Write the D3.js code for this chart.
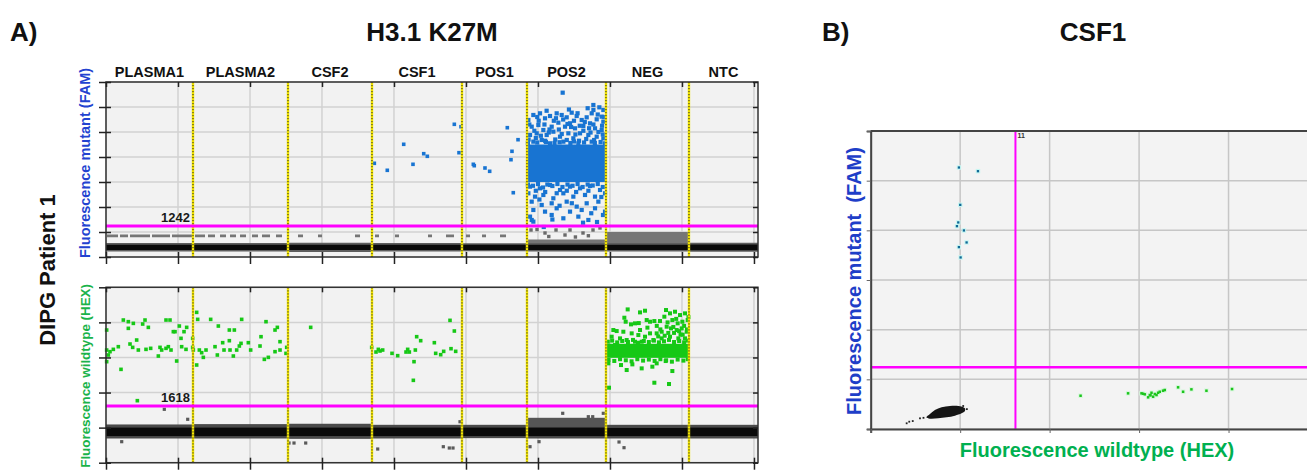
<!DOCTYPE html>
<html>
<head>
<meta charset="utf-8">
<script src="https://cdn.jsdelivr.net/npm/d3@7"></script>
<style>
  body { margin: 0; background: #fff; }
  svg { font-family: 'Liberation Sans', Arial, sans-serif; }
</style>
</head>
<body>
<div id="vis"></div>
<script>
// ---- 1D plots (event number vs amplitude) ----
const wells = ['PLASMA1', 'PLASMA2', 'CSF2', 'CSF1', 'POS1', 'POS2', 'NEG', 'NTC'];
const wellBounds = [0, 12083, 25278, 36944, 49444, 58472, 69444, 80972, 90560];
const eventTicks = [0, 10000, 20000, 30000, 40000, 50000, 60000, 70000, 80000, 90000];
const famTicks = [0, 1000, 2000, 3000, 4000, 5000, 6000, 7000];
const hexTicks = [0, 1000, 2000, 3000, 4000, 5000];
const famThreshold = 1242;
const hexThreshold = 1618;

// negative droplet band per well [lo, hi] (core) and its grey fringe
const famNegCore = [[280, 490], [280, 490], [280, 490], [280, 490], [280, 490], [280, 490], [280, 490], [270, 500]];
const famNegFringe = [[220, 560], [220, 560], [200, 570], [220, 560], [230, 550], [220, 570], [220, 560], [210, 570]];
const hexNegCore = [[760, 1000], [760, 1000], [760, 1000], [760, 1000], [760, 1000], [760, 1000], [760, 990], [760, 1000]];
const hexNegFringe = [[690, 1090], [690, 1100], [680, 1110], [690, 1080], [700, 1080], [690, 1090], [690, 1080], [690, 1080]];

// HEX+ droplets seen in the FAM channel (grey): segments [ev0, ev1, lo, hi]
const famGraySegs = [
  [139, 1667, 790, 900], [1945, 3056, 790, 900], [3334, 6112, 790, 900], [6389, 8890, 790, 900], [9167, 11945, 790, 900],
  [12362, 13751, 790, 900], [14168, 15140, 790, 900], [15835, 16668, 790, 900], [17224, 18057, 790, 900],
  [18613, 19446, 790, 900], [20279, 21113, 790, 900], [21668, 22780, 790, 900], [23613, 24446, 790, 900],
  [26669, 27363, 790, 900], [29447, 30002, 790, 900], [34586, 35281, 790, 900],
  [37364, 37920, 790, 900], [40142, 40698, 790, 900], [44726, 45281, 790, 900], [47226, 48337, 790, 900],
  [50004, 50560, 790, 900], [52227, 52782, 790, 900], [54727, 55560, 790, 900],
  [58472, 69444, 560, 700], [69444, 80972, 560, 1000]
];
const famGrayPoints = [[59032, 1080], [59866, 1100], [60977, 960], [62505, 1080], [63755, 880], [64450, 1080],
  [66254, 960], [67643, 1080], [68616, 1160], [61500, 820], [65200, 800], [67000, 850]];

// FAM positive droplets (CSF1, POS1)
const famPositives = [
  [37270, 3748], [39070, 3468], [41350, 4508], [42640, 3708], [44130, 4132], [44630, 4028], [48380, 5308],
  [49310, 5212], [49030, 4172],
  [51020, 3708], [51150, 3652], [52640, 3560], [53290, 3428], [55740, 5172], [57230, 4692], [56390, 4228],
  [56250, 3892], [56570, 2572]
];
// POS2 FAM cloud: dense core [ev0, ev1, lo, hi] plus the scattered droplets around it
const pos2FamCore = [58472, 69444, 3000, 4500];
const pos2FamPoints = [
  [63431, 6573], [67691, 6080], [68524, 5987], [69080, 5880], [68850, 5613], [58663, 5480], [59357, 5680],
  [60283, 5747], [60978, 5547], [61672, 5640], [62598, 5747], [63293, 5680], [63987, 5587], [64682, 5773],
  [65377, 5640], [66071, 5480], [66765, 5587], [67460, 5747], [68154, 5507], [69080, 5413], [59126, 5213],
  [60052, 5280], [60746, 5080], [61904, 5213], [62830, 5373], [63756, 5213], [64450, 5347], [65145, 5147],
  [66302, 5240], [67228, 5347], [67923, 5147], [68850, 5080], [58894, 4880], [59820, 4947], [61209, 4880],
  [62135, 5013], [63061, 4813], [64219, 4947], [64913, 4747], [65839, 4947], [66997, 4880], [68154, 4813],
  [69080, 4747], [59357, 4614], [60515, 4680], [61672, 4547], [63524, 4614], [65607, 4547], [67460, 4614],
  [69312, 4547],
  [58700, 4700], [59700, 4760], [60400, 4850], [61000, 4650], [61500, 4980], [62400, 4700], [62900, 5100],
  [63300, 4920], [64000, 4680], [64600, 5200], [65200, 4900], [65700, 4650], [66300, 5050], [66700, 4720],
  [67300, 4980], [67800, 4680], [68400, 5000], [69000, 4900], [58800, 5300], [59500, 5050], [60100, 5450],
  [60900, 5300], [61600, 5100], [62200, 5450], [63500, 5500], [64100, 5320], [65000, 5450], [65800, 5250],
  [66500, 5400], [67100, 5150], [67700, 5300], [68300, 5700], [68900, 5250], [69200, 5600], [59900, 5600],
  [61200, 5850], [62500, 5550], [64300, 5900], [65500, 5750], [66900, 5950], [67700, 5880],
  [58600, 4560], [59900, 4580], [61100, 4600], [62300, 4560], [63000, 4590], [64500, 4560], [65000, 4620],
  [66400, 4580], [67900, 4560], [68700, 4600],
  [58894, 2814], [60283, 2748], [61672, 2881], [63061, 2681], [64450, 2814], [65839, 2748], [67228, 2841],
  [68617, 2681], [58663, 2548], [59589, 2415], [60746, 2481], [62135, 2348], [63524, 2548], [64913, 2415],
  [66534, 2481], [67923, 2415], [69312, 2548], [59126, 2214], [60515, 2081], [61904, 2148], [63987, 2214],
  [65377, 2015], [66765, 2148], [68386, 2214], [59357, 1881], [60978, 1815], [62598, 1948], [64450, 1815],
  [66071, 1881], [67923, 1948], [69312, 1815], [58894, 1615], [61904, 1681], [63524, 1548], [65607, 1615],
  [59357, 1415], [66997, 1481], [59130, 1480], [66260, 1372], [69030, 1680],
  [58600, 2900], [59300, 2850], [60000, 2920], [60700, 2780], [61300, 2900], [62000, 2840], [62700, 2920],
  [63400, 2800], [64100, 2900], [64800, 2850], [65500, 2920], [66200, 2800], [66900, 2900], [67600, 2860],
  [68300, 2920], [69000, 2800], [59700, 2650], [61000, 2600], [62600, 2550], [64000, 2650], [65300, 2600],
  [67000, 2650], [68800, 2400], [60200, 2300], [63000, 2050], [64700, 2150], [67400, 1750], [62000, 1500],
  [68200, 1400], [60800, 1200]
];

// HEX positive droplets (PLASMA1, PLASMA2, CSF2, CSF1)
const hexPositives = [
  [93, 3782], [93, 3212], [325, 3070], [93, 2880], [556, 3165], [1019, 3231], [1713, 3307], [2084, 2661],
  [2408, 4067], [3103, 4020], [3103, 3830], [3334, 3383], [3797, 3972], [3704, 3288], [4260, 3497], [4492, 3212],
  [5094, 3953], [5418, 4067], [5881, 3858], [5556, 3231], [6205, 3260], [7270, 3041], [7501, 3288], [7733, 3212],
  [8334, 4067], [8334, 3260], [8890, 4067], [8659, 3307], [9029, 3212], [9353, 3735], [9585, 3735], [9816, 2899],
  [10186, 3896], [10418, 3545], [10510, 3307], [10835, 3735], [11205, 3858], [11112, 3231], [12037, 3545],
  [12037, 3288], [12130, 3212], [12594, 4286], [12733, 4086], [12594, 2785], [12964, 3212], [13289, 3136],
  [13520, 3003], [13890, 3212], [14539, 4086], [15141, 3307], [15604, 3896], [15465, 3070], [16205, 3421],
  [16390, 3212], [17131, 3782], [17131, 3478], [17224, 3212], [17826, 3782], [17687, 3041], [18150, 3212],
  [18520, 3326], [18845, 4086], [18752, 3402], [19770, 3421], [20094, 3212], [21391, 3326], [21530, 3592],
  [21993, 2946], [22224, 4020], [22549, 3003], [23475, 3165], [23475, 3782], [23799, 3858], [24169, 3450],
  [24169, 3212], [25003, 3117], [25095, 3288], [28429, 3858], [4353, 1768],
  [36902, 3288], [37503, 3155], [37828, 3231], [38059, 3184], [38429, 3212], [39726, 3117], [40513, 3051],
  [41670, 3155], [41902, 3231], [42133, 3155], [42967, 3212], [42782, 2880], [42689, 2348], [43152, 3592],
  [43708, 3478], [45606, 3421], [45791, 3117], [46486, 3079], [46902, 3174], [47782, 4058], [48384, 3754],
  [47921, 3250], [48569, 3174]
];
// NEG HEX cloud: dense core plus scattered droplets
const negHexCore = [69444, 80972, 2990, 3390];
const negHexPoints = [
  [72459, 4370], [74173, 4285], [74867, 4333], [75099, 4067], [71996, 4133], [72182, 4019], [72922, 3943],
  [73478, 3972], [74173, 3782], [75562, 4019], [76163, 4038], [76950, 4038], [77784, 4352], [77552, 4162],
  [78339, 4257], [79034, 4304], [79729, 4209], [80423, 4257], [78664, 4067], [79404, 3972], [80053, 4019],
  [80793, 4067], [77877, 3877], [78478, 3829], [79265, 3782], [79960, 3829], [80654, 3734], [77182, 3734],
  [76488, 3687], [75562, 3687], [74867, 3592], [73941, 3639], [73015, 3687], [71858, 3734], [70932, 3753],
  [70468, 3782], [70237, 3592], [71395, 3544], [72321, 3497], [73478, 3449], [74404, 3449], [76025, 3497],
  [77182, 3544], [78339, 3592], [79497, 3544], [80423, 3544], [70700, 3354], [78900, 3700], [80100, 3650],
  [76500, 3900], [77000, 3800], [77600, 3620], [78000, 4000], [78800, 3870], [79200, 4100], [79800, 3650],
  [80300, 3900], [80700, 3800], [80900, 4150], [78100, 3700], [79600, 3750], [76700, 3600], [75200, 3850],
  [74000, 3980],
  [69700, 3450], [70300, 3480], [71000, 3430], [71700, 3470], [72500, 3440], [73200, 3500], [73900, 3420],
  [74700, 3470], [75400, 3440], [76100, 3480], [76800, 3430], [77500, 3460], [78200, 3500], [78900, 3440],
  [79600, 3470], [80300, 3430], [80800, 3480],
  [69800, 2930], [70600, 2900], [71400, 2950], [72200, 2920], [73000, 2890], [73800, 2950], [74600, 2910],
  [75400, 2940], [76200, 2900], [77000, 2950], [77800, 2920], [78600, 2880], [79400, 2940], [80200, 2910],
  [80800, 2950],
  [69774, 2832], [71533, 2784], [72321, 2642], [73108, 2803], [74404, 2689], [75886, 2737], [76488, 2832],
  [77738, 2898], [78664, 2613], [76163, 2280], [78200, 2243], [69866, 2138]
];
// grey droplets in the HEX channel
const hexGrayBand = [58472, 69444, 1020, 1280];
const hexGrayPoints = [
  [2181, 599], [25419, 561], [26113, 561], [27738, 561], [37739, 390], [58894, 456], [60144, 599], [71256, 590],
  [71951, 428], [46851, 456], [47684, 419], [48198, 419], [11348, 1237], [8098, 1522], [63436, 1408],
  [66992, 1311], [67603, 1311], [69075, 1408], [49170, 1168]
];

// ---- 2D plot, CSF1 (HEX vs FAM) ----
const hexTicks2D = [0, 1000, 2000, 3000, 4000, 5000];
const famTicks2D = [0, 1000, 2000, 3000, 4000, 5000, 6000];
const negCluster2D = [[622, 235], [662, 302], [718, 382], [793, 437], [886, 463], [979, 463], [1053, 416],
  [1053, 362], [1016, 316], [942, 268], [849, 235], [755, 215], [662, 207]];
const negTail2D = [[402, 115], [431, 147], [470, 160], [551, 215], [590, 225], [1034, 463], [1075, 400]];
const famPos2D = [[986, 5265], [1199, 5191], [1001, 4513], [979, 4159], [964, 4084], [1042, 3998], [1072, 3756],
  [986, 3662], [1005, 3454]];
const hexPos2D = [[2346, 670], [2877, 718], [3027, 718], [3064, 698], [3120, 684], [3139, 730], [3157, 650],
  [3176, 704], [3195, 684], [3213, 730], [3231, 750], [3268, 771], [3287, 785], [3436, 839], [3492, 750],
  [3585, 798], [3753, 771], [4039, 805], [3045, 710], [3101, 638], [3128, 678]];

const svg = d3.select('#vis').append('svg').attr('width', 1307).attr('height', 471);

const x = d3.scaleLinear().domain([0, 90560]).range([106, 758]);
const yFam = d3.scaleLinear().domain([0, 7000]).range([257, 82]);
const yHex = d3.scaleLinear().domain([0, 5000]).range([462.7, 287.3]);

function squares(g, data, xs, ys, color, size) {
  g.selectAll(null).data(data).enter().append('rect')
    .attr('x', (d) => xs(d[0]) - size / 2)
    .attr('y', (d) => ys(d[1]) - size / 2)
    .attr('width', size).attr('height', size)
    .attr('fill', color);
}

function bands(g, data, y, color) {
  // data rows: [ev0, ev1, lo, hi]
  g.selectAll(null).data(data).enter().append('rect')
    .attr('x', (d) => x(d[0])).attr('width', (d) => x(d[1]) - x(d[0]))
    .attr('y', (d) => y(d[3])).attr('height', (d) => y(d[2]) - y(d[3]))
    .attr('fill', color);
}

function wellBands(g, perWell, y, color) {
  bands(g, perWell.map((b, i) => [wellBounds[i], wellBounds[i + 1], b[0], b[1]]), y, color);
}

function base1D(y, ticks) {
  const g = svg.append('g');
  const [yb, yt] = y.range();
  const [xl, xr] = x.range();
  g.append('rect').attr('x', xl).attr('y', yt).attr('width', xr - xl).attr('height', yb - yt)
    .attr('fill', '#f2f2f2');
  g.selectAll(null).data(ticks).enter().append('line')
    .attr('x1', xl).attr('x2', xr).attr('y1', (d) => y(d)).attr('y2', (d) => y(d))
    .attr('stroke', '#d2d2d2').attr('stroke-width', 1.5);
  g.selectAll(null).data(eventTicks).enter().append('line')
    .attr('x1', (d) => x(d)).attr('x2', (d) => x(d)).attr('y1', yt).attr('y2', yb)
    .attr('stroke', '#d2d2d2').attr('stroke-width', 1.5);
  return g;
}

function overlay1D(y, ticks, threshold) {
  const g = svg.append('g');
  const [yb, yt] = y.range();
  const [xl, xr] = x.range();
  const dividers = wellBounds.slice(1, -1);
  g.selectAll(null).data(dividers).enter().append('line')
    .attr('x1', (d) => x(d)).attr('x2', (d) => x(d)).attr('y1', yt).attr('y2', yb)
    .attr('stroke', '#f4e600').attr('stroke-width', 2.4);
  g.selectAll(null).data(dividers).enter().append('line')
    .attr('x1', (d) => x(d)).attr('x2', (d) => x(d)).attr('y1', yt).attr('y2', yb)
    .attr('stroke', '#222').attr('stroke-width', 1).attr('stroke-dasharray', '1.2,1.8');

  g.append('line')
    .attr('x1', xl).attr('x2', xr).attr('y1', y(threshold)).attr('y2', y(threshold))
    .attr('stroke', '#ff00ff').attr('stroke-width', 3);
  g.append('text')
    .attr('x', x(wellBounds[1]) - 3).attr('y', y(threshold) - 4)
    .attr('text-anchor', 'end').attr('font-size', 13).attr('font-weight', 'bold')
    .attr('fill', '#1a1a1a').text(threshold);

  g.append('rect').attr('x', xl).attr('y', yt).attr('width', xr - xl).attr('height', yb - yt)
    .attr('fill', 'none').attr('stroke', '#333').attr('stroke-width', 1.5);

  const clean = (a) => a.call((s) => s.select('.domain').remove())
    .call((s) => s.selectAll('.tick line').attr('stroke', '#222').attr('stroke-width', 1.5));
  g.append('g').attr('transform', `translate(${xl},0)`)
    .call(d3.axisLeft(y).tickValues(ticks).tickSize(7).tickFormat(''))
    .call(clean).selectAll('.tick line').attr('x1', 5);
  g.append('g').attr('transform', `translate(${xr},0)`)
    .call(d3.axisRight(y).tickValues(ticks).tickSize(-5).tickFormat(''))
    .call(clean);
  g.append('g').attr('transform', `translate(0,${yt})`)
    .call(d3.axisTop(x).tickValues(eventTicks).tickSize(-5).tickFormat(''))
    .call(clean);
  g.append('g').attr('transform', `translate(0,${yb})`)
    .call(d3.axisBottom(x).tickValues(eventTicks).tickSize(7).tickFormat(''))
    .call(clean).selectAll('.tick line').attr('y1', -5);
}

// FAM (mutant) strip
const gFam = base1D(yFam, famTicks);
wellBands(gFam, famNegFringe, yFam, '#5e5e5e');
wellBands(gFam, famNegCore, yFam, '#0a0a0a');
bands(gFam, famGraySegs, yFam, '#767676');
squares(gFam, famGrayPoints, x, yFam, '#6a6a6a', 3.4);
bands(gFam, [pos2FamCore], yFam, '#1874d2');
squares(gFam, pos2FamPoints, x, yFam, '#1874d2', 4.2);
squares(gFam, famPositives, x, yFam, '#1874d2', 3.6);
overlay1D(yFam, famTicks, famThreshold);

// HEX (wildtype) strip
const gHex = base1D(yHex, hexTicks);
wellBands(gHex, hexNegFringe, yHex, '#4a4a4a');
wellBands(gHex, hexNegCore, yHex, '#0a0a0a');
bands(gHex, [hexGrayBand], yHex, '#555');
squares(gHex, hexGrayPoints, x, yHex, '#5a5a5a', 3.2);
bands(gHex, [negHexCore], yHex, '#16c816');
squares(gHex, negHexPoints, x, yHex, '#16c816', 4);
squares(gHex, hexPositives, x, yHex, '#16c816', 3.6);
overlay1D(yHex, hexTicks, hexThreshold);

// ---- 2D panel ----
const x2 = d3.scaleLinear().domain([0, 5000]).range([870.7, 1318]);
const y2 = d3.scaleLinear().domain([0, 6000]).range([429, 131]);
const g2 = svg.append('g');
g2.append('rect').attr('x', x2(0)).attr('y', y2(6000)).attr('width', x2(5000) - x2(0))
  .attr('height', y2(0) - y2(6000)).attr('fill', '#f3f3f3');
g2.selectAll(null).data(famTicks2D).enter().append('line')
  .attr('x1', x2(0)).attr('x2', x2(5000)).attr('y1', (d) => y2(d)).attr('y2', (d) => y2(d))
  .attr('stroke', '#c6c6c6').attr('stroke-width', 1.5);
g2.selectAll(null).data(hexTicks2D).enter().append('line')
  .attr('x1', (d) => x2(d)).attr('x2', (d) => x2(d)).attr('y1', y2(6000)).attr('y2', y2(0))
  .attr('stroke', '#c6c6c6').attr('stroke-width', 1.5);

g2.append('path').datum(negCluster2D)
  .attr('d', d3.line().x((d) => x2(d[0])).y((d) => y2(d[1])).curve(d3.curveCatmullRomClosed))
  .attr('fill', '#151515');
squares(g2, negTail2D, x2, y2, '#222', 1.8);
squares(g2, famPos2D, x2, y2, '#c8f6f2', 4.5);
squares(g2, famPos2D, x2, y2, '#0f6896', 2.3);
squares(g2, hexPos2D, x2, y2, '#d6f7dc', 4.5);
squares(g2, hexPos2D, x2, y2, '#1cc41c', 2.5);

g2.append('line').attr('x1', x2(hexThreshold)).attr('x2', x2(hexThreshold))
  .attr('y1', y2(6000)).attr('y2', y2(0)).attr('stroke', '#ff00ff').attr('stroke-width', 2);
g2.append('line').attr('x1', x2(0)).attr('x2', x2(5000))
  .attr('y1', y2(famThreshold)).attr('y2', y2(famThreshold)).attr('stroke', '#ff00ff').attr('stroke-width', 2.5);
g2.append('text').attr('x', x2(hexThreshold) + 2).attr('y', y2(6000) + 7)
  .attr('font-size', 7).attr('font-weight', 'bold').attr('fill', '#333').text('11');

g2.append('line').attr('x1', x2(0)).attr('x2', x2(5000)).attr('y1', y2(6000)).attr('y2', y2(6000))
  .attr('stroke', '#444').attr('stroke-width', 2);
g2.append('g').attr('transform', `translate(${x2(0)},0)`)
  .call(d3.axisLeft(y2).tickValues(famTicks2D).tickSize(4).tickFormat(''))
  .call((a) => a.select('.domain').attr('stroke', '#444').attr('stroke-width', 2))
  .call((a) => a.selectAll('.tick line').attr('stroke', '#666'));
g2.append('g').attr('transform', `translate(0,${y2(0)})`)
  .call(d3.axisBottom(x2).tickValues(hexTicks2D).tickSize(4).tickFormat(''))
  .call((a) => a.select('.domain').attr('stroke', '#444').attr('stroke-width', 2))
  .call((a) => a.selectAll('.tick line').attr('stroke', '#666'));

// ---- titles and axis labels ----
const title = (t, xx, anchor) => svg.append('text').attr('x', xx).attr('y', 41)
  .attr('text-anchor', anchor).attr('font-size', 26).attr('font-weight', 'bold').attr('fill', '#111').text(t);
title('A)', 10, 'start');
title('H3.1 K27M', 432, 'middle');
title('B)', 822, 'start');
title('CSF1', 1093, 'middle');

svg.selectAll(null).data(wells).enter().append('text')
  .attr('x', (d, i) => (x(wellBounds[i]) + x(wellBounds[i + 1])) / 2)
  .attr('y', 77)
  .attr('text-anchor', 'middle').attr('font-size', 14.5).attr('font-weight', 'bold').attr('fill', '#111')
  .text((d) => d);

svg.append('text').attr('transform', 'translate(55,270) rotate(-90)')
  .attr('text-anchor', 'middle').attr('font-size', 22).attr('font-weight', 'bold').attr('fill', '#111')
  .text('DIPG Patient 1');
svg.append('text').attr('transform', 'translate(90,163) rotate(-90)')
  .attr('text-anchor', 'middle').attr('font-size', 14.5).attr('font-weight', 'bold').attr('fill', '#2343d0')
  .text('Fluorescence mutant (FAM)');
svg.append('text').attr('transform', 'translate(90,284) rotate(-90)')
  .attr('text-anchor', 'end').attr('font-size', 13.4).attr('font-weight', 'bold').attr('fill', '#1ab34a')
  .text('Fluorescence wildtype (HEX)');
svg.append('text').attr('transform', 'translate(861,281) rotate(-90)')
  .attr('text-anchor', 'middle').attr('font-size', 20).attr('font-weight', 'bold').attr('fill', '#1e3ec8')
  .style('white-space', 'pre')
  .text('Fluorescence mutant  (FAM)');
svg.append('text').attr('x', 1097).attr('y', 457)
  .attr('text-anchor', 'middle').attr('font-size', 20).attr('font-weight', 'bold').attr('fill', '#00b050')
  .text('Fluorescence wildtype (HEX)');
</script>
</body>
</html>
